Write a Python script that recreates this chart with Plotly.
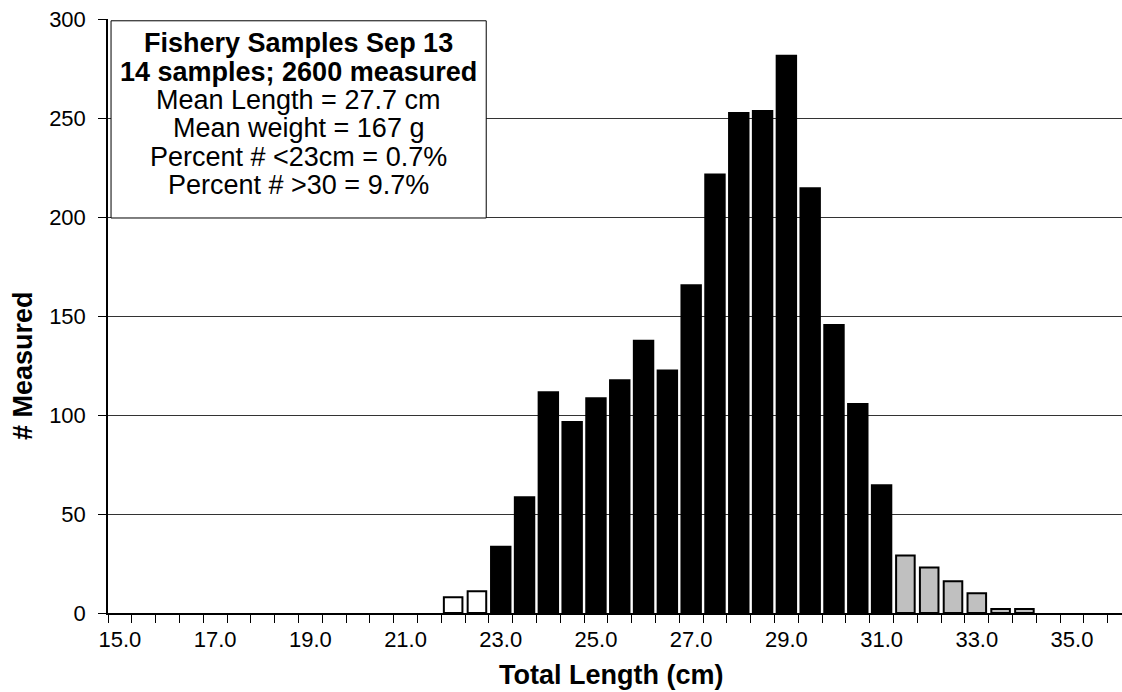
import plotly.graph_objects as go

# ---- data ----
lengths = [22.0, 22.5, 23.0, 23.5, 24.0, 24.5, 25.0, 25.5, 26.0, 26.5, 27.0, 27.5,
           28.0, 28.5, 29.0, 29.5, 30.0, 30.5, 31.0, 31.5, 32.0, 32.5, 33.0, 33.5, 34.0]
counts = [8, 11, 34, 59, 112, 97, 109, 118, 138, 123, 166, 222,
          253, 254, 282, 215, 146, 106, 65, 29, 23, 16, 10, 2, 2]
tick_labels = [15.0, 17.0, 19.0, 21.0, 23.0, 25.0, 27.0, 29.0, 31.0, 33.0, 35.0]
y_ticks = [0, 50, 100, 150, 200, 250, 300]
box_lines = ["<b>Fishery Samples Sep 13</b>", "<b>14 samples; 2600 measured</b>",
             "Mean Length = 27.7 cm", "Mean weight = 167 g",
             "Percent # <23cm = 0.7%", "Percent # >30 = 9.7%"]
small_cut = 23.0
large_cut = 31.0

FONT = "Liberation Sans, Arial, sans-serif"

small = [(x, c) for x, c in zip(lengths, counts) if x < small_cut]
mid = [(x, c) for x, c in zip(lengths, counts) if small_cut <= x <= large_cut]
large = [(x, c) for x, c in zip(lengths, counts) if x > large_cut]

fig = go.Figure()
fig.add_trace(go.Bar(x=[p[0] for p in small], y=[p[1] for p in small], width=0.39,
                     marker=dict(color="white", line=dict(color="black", width=2))))
fig.add_trace(go.Bar(x=[p[0] for p in mid], y=[p[1] for p in mid], width=0.45,
                     marker=dict(color="black", line=dict(width=0))))
fig.add_trace(go.Bar(x=[p[0] for p in large], y=[p[1] for p in large], width=0.39,
                     marker=dict(color="#c0c0c0", line=dict(color="black", width=2))))

# stats box
fig.add_shape(type="rect", xref="paper", yref="paper", x0=0.003, x1=0.373, y0=0.665, y1=0.997,
              line=dict(color="black", width=1), fillcolor="white", layer="above")
line_y_px = [43, 72, 100, 128, 157, 185]
for txt, ypx in zip(box_lines, line_y_px):
    fig.add_annotation(xref="paper", yref="paper", x=(298 - 108) / 1014, y=(613 - ypx) / 594,
                       text=txt, showarrow=False, xanchor="center", yanchor="middle",
                       font=dict(family=FONT, size=27, color="black"))

# axis titles
fig.add_annotation(xref="paper", yref="paper", x=(611 - 108) / 1014, y=(613 - 675) / 594,
                   text="<b>Total Length (cm)</b>", showarrow=False, xanchor="center",
                   yanchor="middle", font=dict(family=FONT, size=27, color="black"))
fig.add_annotation(xref="paper", yref="paper", x=(23 - 108) / 1014, y=(613 - 366) / 594,
                   text="<b># Measured</b>", showarrow=False, textangle=-90, xanchor="center",
                   yanchor="middle", font=dict(family=FONT, size=27, color="black"))

fig.update_layout(
    width=1122, height=692,
    margin=dict(l=108, r=0, t=19, b=79),
    paper_bgcolor="white", plot_bgcolor="white",
    showlegend=False, barmode="overlay",
    font=dict(family=FONT, size=22, color="black"),
)
fig.update_xaxes(
    range=[14.75, 36.05],
    tickmode="array", tickvals=tick_labels, ticktext=[f"{v:.1f}" for v in tick_labels],
    ticks="outside", ticklen=6, tickcolor="rgba(0,0,0,0)",
    minor=dict(tickmode="linear", tick0=14.75, dtick=0.5, ticks="outside", ticklen=8,
               tickcolor="black", tickwidth=1, showgrid=False),
    showline=True, linecolor="black", linewidth=1.5,
    showgrid=False, zeroline=False,
    tickfont=dict(family=FONT, size=22, color="black"),
)
fig.update_yaxes(
    range=[0, 300], tickvals=y_ticks,
    ticks="outside", ticklen=8, tickcolor="black", tickwidth=1,
    showline=True, linecolor="black", linewidth=1.5,
    showgrid=True, gridcolor="#333333", gridwidth=1, zeroline=False,
    tickfont=dict(family=FONT, size=22, color="black"),
    ticklabelstandoff=8,
)

fig.write_html("out.html", config={"displayModeBar": False},
               post_script="document.body.style.margin='0';")
